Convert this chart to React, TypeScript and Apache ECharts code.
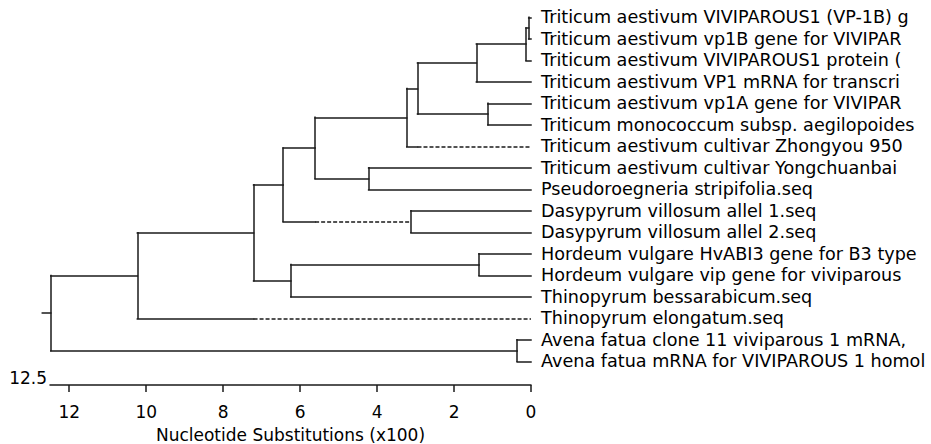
import React, { useEffect, useRef } from "react";
import * as echarts from "echarts";

// ---- data ----
const leafNames = [
  "Triticum aestivum VIVIPAROUS1 (VP-1B) g",
  "Triticum aestivum vp1B gene for VIVIPAR",
  "Triticum aestivum VIVIPAROUS1 protein (",
  "Triticum aestivum VP1 mRNA for transcri",
  "Triticum aestivum vp1A gene for VIVIPAR",
  "Triticum monococcum subsp. aegilopoides",
  "Triticum aestivum cultivar Zhongyou 950",
  "Triticum aestivum cultivar Yongchuanbai",
  "Pseudoroegneria stripifolia.seq",
  "Dasypyrum villosum allel 1.seq",
  "Dasypyrum villosum allel 2.seq",
  "Hordeum vulgare HvABI3 gene for B3 type",
  "Hordeum vulgare vip gene for viviparous",
  "Thinopyrum bessarabicum.seq",
  "Thinopyrum elongatum.seq",
  "Avena fatua clone 11 viviparous 1 mRNA,",
  "Avena fatua mRNA for VIVIPAROUS 1 homol",
];

// internal nodes (children listed before parents); heights in substitutions (x100)
const nodeIds = ["n01", "nA", "nB", "nC", "nD", "nE", "nG", "nF", "nI", "nH", "nL", "nK", "nJ", "nM", "nN", "root"];
const nodeHeights = [0.06, 0.13, 1.42, 1.12, 2.95, 3.23, 4.22, 5.61, 3.12, 6.44, 1.35, 6.24, 7.21, 10.23, 0.36, 12.48];
const nodeChildren: (number | string)[][] = [
  [0, 1], ["n01", 2], ["nA", 3], [4, 5], ["nB", "nC"], ["nD", 6],
  [7, 8], ["nE", "nG"], [9, 10], ["nF", "nI"], [11, 12], ["nL", 13],
  ["nH", "nK"], ["nJ", 14], [15, 16], ["nM", "nN"],
];
// branches drawn partly dashed: child id, and height where the dashed part begins
const dashedChild: (number | string)[] = [6, "nI", 14];
const dashFrom = [2.95, 5.61, 7.21];

const tickValues = [0, 2, 4, 6, 8, 10, 12];
const axisMax = 12.5;
const rootStubStart = 12.7;

const FONT = "DejaVu Sans";
const LINE = "#1a1a1a";

export default function App() {
  const ref = useRef<HTMLDivElement>(null);
  useEffect(() => {
    if (!ref.current) return;
    const chart = echarts.init(ref.current, undefined, { renderer: "svg" });

    const pos: Record<string, { x: number; y: number }> = {};
    leafNames.forEach((_, i) => (pos[String(i)] = { x: 0, y: i }));
    nodeIds.forEach((id, k) => {
      const [a, b] = nodeChildren[k].map(String);
      pos[id] = { x: nodeHeights[k], y: (pos[a].y + pos[b].y) / 2 };
    });

    const solid: number[][][] = [];
    const dashed: number[][][] = [];
    const dashKeys = dashedChild.map(String);
    nodeIds.forEach((id, k) => {
      const p = pos[id];
      const kids = nodeChildren[k].map(String);
      solid.push([[p.x, pos[kids[0]].y], [p.x, pos[kids[1]].y]]);
      kids.forEach((c) => {
        const q = pos[c];
        const di = dashKeys.indexOf(c);
        if (di >= 0) {
          solid.push([[p.x, q.y], [dashFrom[di], q.y]]);
          dashed.push([[dashFrom[di], q.y], [q.x, q.y]]);
        } else {
          solid.push([[p.x, q.y], [q.x, q.y]]);
        }
      });
    });
    const r = pos["root"];
    solid.push([[rootStubStart, r.y], [r.x, r.y]]);

    chart.setOption({
      animation: false,
      backgroundColor: "#ffffff",
      grid: {
        left: 50,
        right: 400,
        top: 6.5,
        bottom: 72,
        containLabel: false,
        outerBoundsMode: "none",
      },
      xAxis: [
        {
          type: "value",
          min: 0,
          max: axisMax,
          inverse: true,
          position: "bottom",
          offset: 13,
          axisLine: { show: true, onZero: false, lineStyle: { color: LINE, width: 1.5 } },
          axisTick: { show: true, length: 7, customValues: tickValues, lineStyle: { color: LINE, width: 1.5 } },
          axisLabel: { customValues: tickValues, margin: 18, fontSize: 17, fontFamily: FONT, color: "#000" },
          splitLine: { show: false },
          name: "Nucleotide Substitutions (x100)",
          nameLocation: "middle",
          nameGap: 41,
          nameTextStyle: { fontSize: 17, fontFamily: FONT, color: "#000" },
        },
      ],
      yAxis: [
        { type: "value", min: -0.5, max: 16.5, inverse: true, show: false },
        {
          type: "category",
          data: leafNames,
          inverse: true,
          position: "right",
          boundaryGap: true,
          axisLine: { show: false },
          axisTick: { show: false },
          splitLine: { show: false },
          axisLabel: { interval: 0, margin: 10, fontSize: 17.6, fontFamily: FONT, color: "#000" },
        },
      ],
      graphic: [
        {
          type: "text",
          x: 47,
          y: 378,
          style: {
            text: String(axisMax),
            textAlign: "right",
            textVerticalAlign: "middle",
            align: "right",
            verticalAlign: "middle",
            fontSize: 17,
            fontFamily: FONT,
            fill: "#000",
          },
        },
      ],
      series: [
        {
          type: "lines",
          coordinateSystem: "cartesian2d",
          xAxisIndex: 0,
          yAxisIndex: 0,
          polyline: false,
          clip: false,
          silent: true,
          lineStyle: { color: LINE, width: 1.5, opacity: 1, type: "solid", cap: "square" },
          data: solid.map((c) => ({ coords: c })),
        },
        {
          type: "lines",
          coordinateSystem: "cartesian2d",
          xAxisIndex: 0,
          yAxisIndex: 0,
          polyline: false,
          clip: false,
          silent: true,
          lineStyle: { color: LINE, width: 1.5, opacity: 1, type: [4, 2] },
          data: dashed.map((c) => ({ coords: c })),
        },
      ],
    });
    return () => chart.dispose();
  }, []);
  return (
    <div
      ref={ref}
      style={{ position: "fixed", left: 0, top: 0, width: 931, height: 444, background: "#fff" }}
    />
  );
}
